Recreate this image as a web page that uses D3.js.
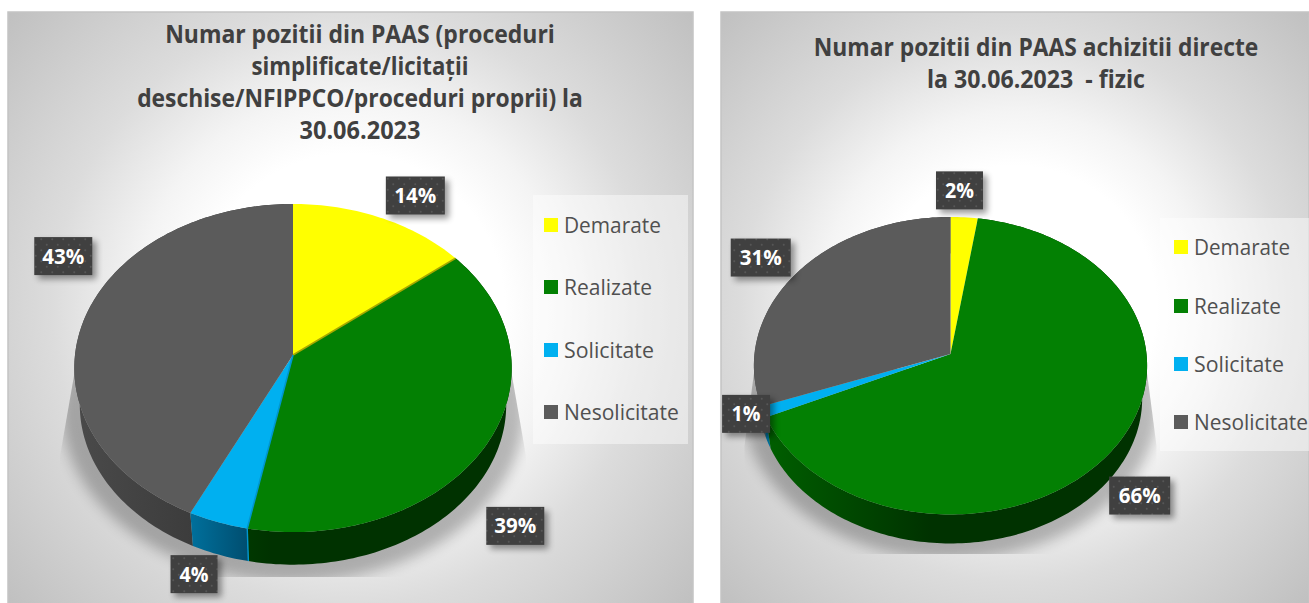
<!DOCTYPE html>
<html><head><meta charset="utf-8">
<script src="https://cdnjs.cloudflare.com/ajax/libs/d3/7.8.5/d3.min.js"></script>
<style>html,body{margin:0;padding:0;background:#fff;overflow:hidden}svg{display:block}text{font-family:"Open Sans",sans-serif;white-space:pre}</style>
</head><body><svg id="c" width="1309" height="603"></svg>
<script>
// ---- data ----
const categories = ["Demarate","Realizate","Solicitate","Nesolicitate"];
const leftValues = [14.3,38.8,4.1,42.8];
const rightValues = [2.4,65.8,1.2,30.6];
const leftTitle = ["Numar pozitii din PAAS (proceduri","simplificate/licitații","deschise/NFIPPCO/proceduri proprii) la","30.06.2023"];
const rightTitle = ["Numar pozitii din PAAS achizitii directe","la 30.06.2023  - fizic"];
const colors = ["#ffff00","#038003","#00b0f0","#5b5b5b"];
const wallLeft = ["#8a8a00","#006200","#00709c","#4a4a4a"];
const wallMid  = ["#6b6b00","#003200","#004e70","#333333"];
// ---- layout ----
const panels = [
 {id:"L",x:8,y:12,w:685,h:591,values:leftValues,title:leftTitle,
  titleCx:360,titleY:43,titleStep:32,titleW:[390,217,446,121],
  cx:293,cy:355,R:218,S:163,k:0.0795,depth:37,narrow:0.975,shadowPad:15,shadowBottom:577,
  legend:{x:533,y:195,w:155,h:249,mx:544,tx:564,ys:[225,287,350,412],tw:[97,88,90,115]},
  edges:[{slice:0,side:"endAngle",color:"#a8a800"},{slice:2,side:"startAngle",color:"#0096cf"}],
  labelOffset:[[34,-22.5],[28,82.5],[-24,52],[-21,-63]],labelW:[59,58,47,58]},
 {id:"R",x:721,y:12,w:588,h:591,values:rightValues,title:rightTitle,
  titleCx:1036,titleY:55.5,titleStep:32,titleW:[445,218],
  cx:950.5,cy:354,R:196,S:147.8,k:0.0788,depth:33,narrow:0.975,shadowPad:10,shadowBottom:554,
  legend:{x:1160,y:218,w:149,h:233,mx:1174,tx:1194,ys:[247,306,364,422],tw:[96,87,90,114]},
  edges:[],
  labelOffset:[[-4.7,-27],[25,48],[-17.5,2],[-36,-15.5]],labelW:[47,61,48,60]}
];
const labelH = 38;
const svg = d3.select("#c");
const defs = svg.append("defs");
const blur = (id,s)=>defs.append("filter").attr("id",id).attr("x","-30%").attr("y","-30%").attr("width","160%").attr("height","160%")
  .append("feGaussianBlur").attr("stdDeviation",s);
blur("b3",3); blur("b9",7);
const pat = defs.append("pattern").attr("id","dots").attr("width",11).attr("height",11).attr("patternUnits","userSpaceOnUse");
pat.append("rect").attr("width",11).attr("height",11).attr("fill","#404040");
pat.append("circle").attr("cx",2.75).attr("cy",2.75).attr("r",1).attr("fill","#565656");
pat.append("circle").attr("cx",8.25).attr("cy",8.25).attr("r",1).attr("fill","#565656");
const pctFmt = d3.format(".0%");
const line = d3.line();

// place a text so that it is exactly `width` wide, by a horizontal scale of the glyphs
function fitted(g,str,x,y,width,anchor,size,weight,fill){
  const t=g.append("text").attr("font-size",size).attr("font-weight",weight).attr("fill",fill).attr("text-anchor",anchor).text(str);
  const sx=width/t.node().getComputedTextLength();
  t.attr("transform",`translate(${x},${y}) scale(${sx},1)`);
  return t;
}

panels.forEach(p=>{
  const bg = defs.append("radialGradient").attr("id","bg"+p.id).attr("gradientUnits","userSpaceOnUse")
    .attr("cx",p.x+p.w/2).attr("cy",p.y+p.h/2).attr("r",Math.hypot(p.w,p.h)/2);
  [[0,"#ffffff"],[0.34,"#ffffff"],[0.47,"#f4f4f4"],[0.66,"#dcdcdc"],[1,"#c0c0c0"]].forEach(s=>bg.append("stop").attr("offset",s[0]).attr("stop-color",s[1]));
  const g = svg.append("g");
  g.append("rect").attr("x",p.x).attr("y",p.y).attr("width",p.w).attr("height",p.h+2).attr("fill","url(#bg"+p.id+")").attr("stroke","#c4c4c4").attr("stroke-width",1.5);

  // legend backdrop
  g.append("rect").attr("x",p.legend.x).attr("y",p.legend.y).attr("width",p.legend.w).attr("height",p.legend.h).attr("fill","#fff").attr("opacity",0.45);

  // perspective projection of the unit disc
  const project = (theta,r,scale,dy)=>{
    const u=Math.sin(theta)*r, v=Math.cos(theta)*r, w=1+p.k*v;
    return [p.cx+p.R*scale*u/w, p.cy+dy-p.S*scale*v/w];
  };
  const arcPts = (a,b,r,scale,dy)=>{
    const n=Math.max(2,Math.ceil((b-a)/0.02));
    return d3.range(n+1).map(i=>project(a+(b-a)*i/n,r,scale,dy));
  };
  const arcs = d3.pie().sort(null)(p.values);

  // soft ground shadow, cut to a wedge-sided box as in the reference
  const midY=p.cy+p.S*0.62, L=p.cx-p.R, Rt=p.cx+p.R;
  defs.append("clipPath").attr("id","sh"+p.id).append("path").attr("d",line([
    [L,p.cy+15],[Rt,p.cy+15],[Rt+p.shadowPad,midY],[Rt+p.shadowPad,p.shadowBottom],[L-p.shadowPad,p.shadowBottom],[L-p.shadowPad,midY]])+"Z");
  g.append("g").attr("clip-path","url(#sh"+p.id+")")
   .append("path").attr("d",line(arcPts(0,2*Math.PI,1,1.06,p.depth+2))+"Z").attr("fill","#000").attr("opacity",0.26).attr("filter","url(#b9)");

  // side walls
  arcs.forEach((a,i)=>{
    const gr=defs.append("linearGradient").attr("id","w"+p.id+i).attr("gradientUnits","userSpaceOnUse");
    const e0=project(a.startAngle,1,1,0)[0], e1=project(a.endAngle,1,1,0)[0];
    const left=i===2&&p.id==="L"?Math.min(e0,e1):L, right=i===2&&p.id==="L"?Math.max(e0,e1):Rt;
    gr.attr("x1",left).attr("x2",right).attr("y1",0).attr("y2",0);
    gr.append("stop").attr("offset",0).attr("stop-color",wallLeft[i]);
    gr.append("stop").attr("offset",i===2?1:0.45).attr("stop-color",wallMid[i]);
    gr.append("stop").attr("offset",1).attr("stop-color",wallMid[i]);
  });
  arcs.map((a,i)=>({a,i})).filter(o=>Math.cos((o.a.startAngle+o.a.endAngle)/2)<0.9)
   .sort((x,y)=>Math.cos((y.a.startAngle+y.a.endAngle)/2)-Math.cos((x.a.startAngle+x.a.endAngle)/2))
   .forEach(o=>{
    const top=arcPts(o.a.startAngle,o.a.endAngle,1,1,0);
    const bot=arcPts(o.a.startAngle,o.a.endAngle,1,p.narrow,p.depth).reverse();
    g.append("path").attr("d",line(top.concat(bot))+"Z").attr("fill","url(#w"+p.id+o.i+")");
  });

  // top faces
  g.selectAll("path.slice").data(arcs).enter().append("path").attr("class","slice")
    .attr("fill",(d,i)=>colors[i])
    .attr("d",d=>line([[p.cx,p.cy]].concat(arcPts(d.startAngle,d.endAngle,1,1,0)))+"Z");

  // thin bevel edges between some slices
  p.edges.forEach(e=>{
    const th=arcs[e.slice][e.side], o=project(th,1,1,0), b=project(th,1,p.narrow,p.depth);
    g.append("path").attr("d",line([[p.cx,p.cy],o])).attr("stroke",e.color).attr("stroke-width",1.6).attr("fill","none");
    if(Math.cos(th)<0) g.append("path").attr("d",line([o,b])).attr("stroke",e.color).attr("stroke-width",1.4).attr("fill","none");
  });

  // title
  p.title.forEach((t,i)=>fitted(g,t,p.titleCx,p.titleY+i*p.titleStep,p.titleW[i],"middle",24.5,700,"#404040"));

  // legend
  categories.forEach((c,i)=>{
    g.append("rect").attr("x",p.legend.mx).attr("y",p.legend.ys[i]-7).attr("width",14).attr("height",14).attr("fill",colors[i]);
    fitted(g,c,p.legend.tx,p.legend.ys[i]+7.5,p.legend.tw[i],"start",22,400,"#505050");
  });

  // data labels
  const total=d3.sum(p.values);
  arcs.forEach((a,i)=>{
    const e=project((a.startAngle+a.endAngle)/2,1,1,0);
    const cx=e[0]+p.labelOffset[i][0], cy=e[1]+p.labelOffset[i][1], w=p.labelW[i];
    const s=pctFmt(p.values[i]/total);
    g.append("rect").attr("x",cx-w/2+4).attr("y",cy-labelH/2+4).attr("width",w).attr("height",labelH).attr("fill","#000").attr("opacity",0.4).attr("filter","url(#b3)");
    g.append("rect").attr("x",cx-w/2).attr("y",cy-labelH/2).attr("width",w).attr("height",labelH).attr("fill","url(#dots)");
    fitted(g,s,cx,cy+7.5,s.length>2?42:29,"middle",21,700,"#fff");
  });
});
</script></body></html>
